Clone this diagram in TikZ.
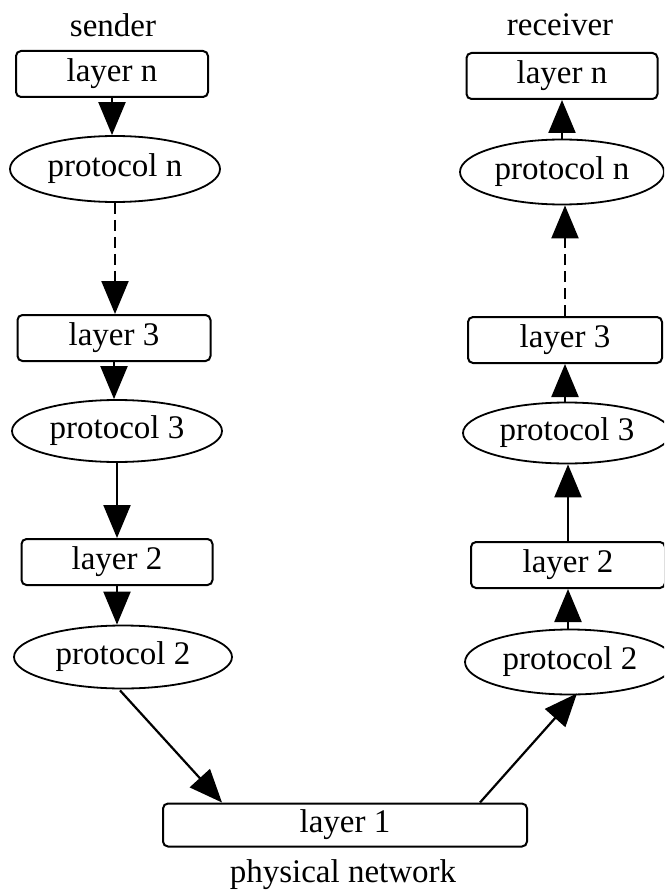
\documentclass[tikz,border=0pt]{standalone}
\usepackage{fontspec}
\setmainfont{Liberation Serif}
\usetikzlibrary{arrows.meta,shapes.geometric}

\begin{document}
\begin{tikzpicture}[x=1pt,y=-1pt,
  every node/.style={font=\fontsize{33}{36}\selectfont, inner sep=0pt},
  layerbox/.style={draw, rounded corners=5pt, line width=2pt, minimum height=46pt},
  proto/.style={draw, ellipse, line width=1.8pt, minimum height=64pt},
  link/.style={line width=2.2pt, -{Triangle[length=33pt,width=27pt]}},
  dashlink/.style={link, dash pattern=on 11pt off 6pt}
]
\useasboundingbox (0,0) rectangle (664,893);
\clip (0,0) rectangle (664,893);

% sending side
\node (sender) at (113,25) {sender};
\node[layerbox, minimum width=192pt] (LnL) at (112,74) {layer n};
\node[proto, minimum width=210pt, minimum height=66pt] (PnL) at (115,169) {protocol n};
\node[layerbox, minimum width=193pt] (L3L) at (114,338) {layer 3};
\node[proto, minimum width=210pt, minimum height=62pt] (P3L) at (117,431) {protocol 3};
\node[layerbox, minimum width=191pt] (L2L) at (117,562) {layer 2};
\node[proto, minimum width=218pt, minimum height=63pt] (P2L) at (123,657) {protocol 2};

% receiving side
\node (receiver) at (560,25) {receiver};
\node[layerbox, minimum width=191pt] (LnR) at (562,76) {layer n};
\node[proto, minimum width=204pt, minimum height=65pt] (PnR) at (562,172) {protocol n};
\node[layerbox, minimum width=194pt] (L3R) at (565,340) {layer 3};
\node[proto, minimum width=208pt, minimum height=61pt] (P3R) at (567,433) {protocol 3};
\node[layerbox, minimum width=194pt] (L2R) at (568,565) {layer 2};
\node[proto, minimum width=210pt, minimum height=65pt] (P2R) at (570,662) {protocol 2};

% physical layer
\node[layerbox, minimum width=364pt, minimum height=43pt] (L1) at (345,825) {layer 1};
\node (phys) at (343,875) {physical network};

% downward path
\draw[link] (LnL.south) -- (LnL.south |- PnL.north);
\draw[dashlink] (PnL.south) -- (PnL.south |- L3L.north);
\draw[link] (L3L.south) -- (L3L.south |- P3L.north);
\draw[link] (P3L.south) -- (P3L.south |- L2L.north);
\draw[link] (L2L.south) -- (L2L.south |- P2L.north);
\draw[link] ([xshift=-3pt,yshift=-1pt]P2L.south) -- ([xshift=-123pt]L1.north);

% upward path
\draw[link] ([xshift=135pt]L1.north) -- ([xshift=7pt,yshift=2pt]P2R.south);
\draw[link] (P2R.north -| L2R.south) -- (L2R.south);
\draw[link] (L2R.north) -- (L2R.north |- P3R.south);
\draw[link] (P3R.north -| L3R.south) -- (L3R.south);
\draw[dashlink] (L3R.north) -- (L3R.north |- PnR.south);
\draw[link] (PnR.north) -- (PnR.north |- LnR.south);
\end{tikzpicture}
\end{document}
